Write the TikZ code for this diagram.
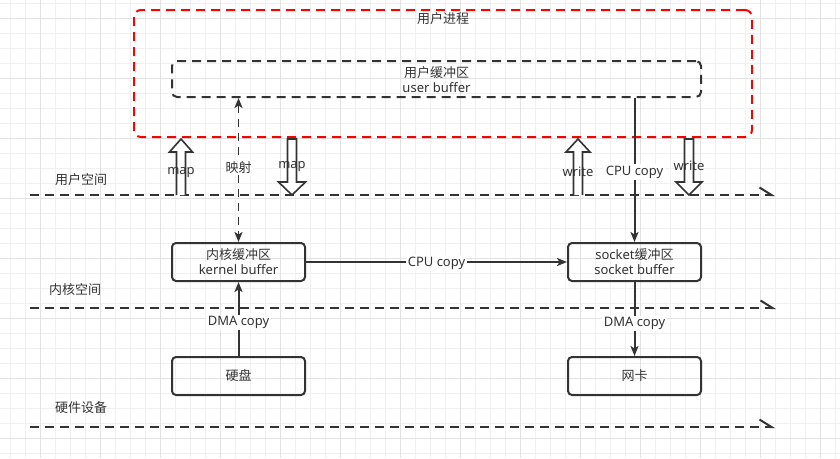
\documentclass[tikz,border=0pt]{standalone}
\usepackage{fontspec}
\setmainfont{Noto Sans}
\newfontfamily\cjk{Noto Sans CJK SC}
\usetikzlibrary{arrows.meta}

\definecolor{ink}{HTML}{333333}
\definecolor{gridlt}{HTML}{F0F0F0}
\definecolor{griddk}{HTML}{E2E2E2}
\definecolor{procred}{HTML}{FF0000}

\tikzset{
  txt/.style={text=ink, font=\fontsize{13}{15}\selectfont, inner sep=1pt, align=center},
  lbl/.style={txt, fill=white, inner sep=1.5pt},
  box/.style={txt, draw=ink, line width=2pt, rounded corners=4pt,
              minimum width=133pt, minimum height=38pt, inner sep=0pt},
  dashbox/.style={draw=ink, line width=2pt, rounded corners=5pt,
              dash pattern=on 9pt off 6pt},
  procbox/.style={draw=procred, line width=2pt, rounded corners=7pt,
              dash pattern=on 9pt off 6pt},
  conn/.style={draw=ink, line width=2pt,
              -{Stealth[length=10pt,width=8pt,inset=2.5pt]}},
  link/.style={draw=ink, line width=1.8pt, dash pattern=on 8pt off 6pt,
              {Stealth[length=10pt,width=8pt,inset=2.5pt]}-{Stealth[length=10pt,width=8pt,inset=2.5pt]}},
  layer/.style={draw=ink, line width=2pt, dash pattern=on 9pt off 6pt,
              -{Straight Barb[harpoon,length=12pt,width=15pt,line width=2pt]}},
  block/.style={draw=ink, line width=1.6pt, fill=white, line join=miter}
}

% hollow block arrows: centre x, shaft half width, head half width
\newcommand\blockup[3]{%
  \draw[block] (#1-#2,195) -- (#1-#2,152) -- (#1-#3,152) -- (#1,139)
    -- (#1+#3,152) -- (#1+#2,152) -- (#1+#2,195);}
\newcommand\blockdown[3]{%
  \draw[block] (#1-#2,139) -- (#1-#2,182) -- (#1-#3,182) -- (#1,195)
    -- (#1+#3,182) -- (#1+#2,182) -- (#1+#2,139) -- cycle;}

\begin{document}
\begin{tikzpicture}[x=1pt,y=-1pt]
  \useasboundingbox (0,0) rectangle (840,458);
  \fill[white] (0,0) rectangle (840,458);

  % background grid
  \foreach \i in {0,...,55} \draw[gridlt, line width=1pt] (10.7+15*\i,0) -- (10.7+15*\i,458);
  \foreach \j in {0,...,30} \draw[gridlt, line width=1pt] (0,3.3+15*\j) -- (840,3.3+15*\j);
  \foreach \i in {0,...,13} \draw[griddk, line width=1pt] (40.7+60*\i,0) -- (40.7+60*\i,458);
  \foreach \j in {0,...,7} \draw[griddk, line width=1pt] (0,18.3+60*\j) -- (840,18.3+60*\j);

  % user process and its buffer
  \node[procbox, minimum width=618pt, minimum height=127pt] (proc) at (443,73.5) {};
  \node[txt, anchor=north] (proctitle) at ([yshift=-2pt]proc.north) {\cjk 用户进程};
  \node[dashbox, minimum width=529pt, minimum height=36pt] (ubuf) at (436.5,79) {};
  \node[txt] (ubuftext) at ([yshift=-1pt]ubuf.center) {{\cjk 用户缓冲区}\\user buffer};

  % kernel and hardware boxes
  \node[box] (kbuf) at (238.5,262) {{\cjk 内核缓冲区}\\kernel buffer};
  \node[box] (sbuf) at (634.5,262) {socket{\cjk 缓冲区}\\socket buffer};
  \node[box] (disk) at (238.5,376) {\cjk 硬盘};
  \node[box] (nic)  at (634.5,376) {\cjk 网卡};

  % space boundaries
  \coordinate (l1s) at (30,195);  \coordinate (l1e) at (775,195);
  \coordinate (l2s) at (30,308);  \coordinate (l2e) at (776,308);
  \coordinate (l3s) at (30,427);  \coordinate (l3e) at (775,427);
  \draw[layer] (l1s) -- (l1e);
  \draw[layer] (l2s) -- (l2e);
  \draw[layer] (l3s) -- (l3e);
  \node[txt] (userspace)   at (81,180) {\cjk 用户空间};
  \node[txt] (kernelspace) at (75,290) {\cjk 内核空间};
  \node[txt] (hardware)    at (81,408) {\cjk 硬件设备};

  % mmap / write block arrows
  \blockup{181}{4.5}{11.5}
  \blockdown{292}{4.5}{13.5}
  \blockup{578}{4.5}{12}
  \blockdown{689}{4.5}{13}
  \node[txt] (mapup)    at (181,173) {map};
  \node[txt] (mapdown)  at (292,167) {map};
  \node[txt] (writeup)  at (578,172) {write};
  \node[txt] (writedown) at (689,166) {write};

  % data paths
  \draw[link] (kbuf.north |- ubuf.south) -- node[lbl, pos=0.48] {\cjk 映射} (kbuf.north);
  \draw[conn] (disk.north) -- node[lbl, pos=0.45] {DMA copy} (kbuf.south);
  \draw[conn] (kbuf.east) -- node[lbl, yshift=-1pt] {CPU copy} (sbuf.west);
  \draw[conn] (sbuf.north |- ubuf.south) -- node[lbl, pos=0.5, yshift=-2pt] {CPU copy} (sbuf.north);
  \draw[conn] (sbuf.south) -- node[lbl, pos=0.55, yshift=-1pt] {DMA copy} (nic.north);
\end{tikzpicture}
\end{document}
